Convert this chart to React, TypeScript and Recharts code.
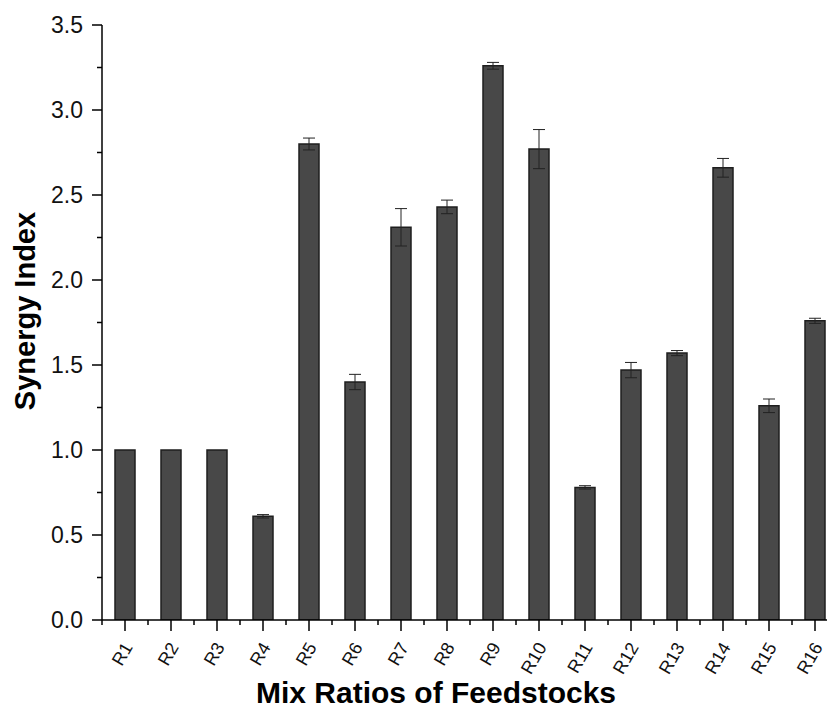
import React from 'react';
import { BarChart, Bar, XAxis, YAxis, ErrorBar, Label } from 'recharts';

const categories = ['R1', 'R2', 'R3', 'R4', 'R5', 'R6', 'R7', 'R8', 'R9', 'R10', 'R11', 'R12', 'R13', 'R14', 'R15', 'R16'];
const synergy = [1.0, 1.0, 1.0, 0.61, 2.8, 1.4, 2.31, 2.43, 3.26, 2.77, 0.78, 1.47, 1.57, 2.66, 1.26, 1.76];
const errors = [null, null, null, 0.01, 0.035, 0.045, 0.11, 0.04, 0.02, 0.115, 0.01, 0.045, 0.015, 0.055, 0.04, 0.015];
// major ticks every 0.5, minor every 0.25
const yTicks = [0, 0.25, 0.5, 0.75, 1, 1.25, 1.5, 1.75, 2, 2.25, 2.5, 2.75, 3, 3.25, 3.5];

const data = categories.map((name, i) => ({ name, value: synergy[i], err: errors[i] ?? undefined }));

const font = 'Arial, "Liberation Sans", sans-serif';

// category tick: major line at centre, minor line at the band edge(s), rotated label
const XTick = (props: any) => {
  const { x, y, payload, index, visibleTicksCount } = props;
  const half = payload.offset || 23;
  const last = index === visibleTicksCount - 1;
  return (
    <g>
      <line x1={x} y1={y} x2={x} y2={y + 11} stroke="#000" strokeWidth={1.5} />
      <line x1={x - half} y1={y} x2={x - half} y2={y + 5} stroke="#000" strokeWidth={1.5} />
      {last && <line x1={x + half} y1={y} x2={x + half} y2={y + 5} stroke="#000" strokeWidth={1.5} />}
      <g transform={`translate(${x + 3},${y + 24})`}>
        <text transform="rotate(-60)" textAnchor="end" dominantBaseline="central" fontSize={18} fontFamily={font} fill="#111">
          {payload.value}
        </text>
      </g>
    </g>
  );
};

const YTick = (props: any) => {
  const { x, y, payload } = props;
  const major = Math.abs(payload.value * 2 - Math.round(payload.value * 2)) < 1e-6;
  return (
    <g>
      <line x1={x - (major ? 10 : 5)} y1={y} x2={x} y2={y} stroke="#000" strokeWidth={1.5} />
      {major && (
        <text x={x - 19} y={y} textAnchor="end" dominantBaseline="central" fontSize={23} fontFamily={font} fill="#111">
          {payload.value.toFixed(1)}
        </text>
      )}
    </g>
  );
};

export default function App() {
  return (
    <div style={{ position: 'absolute', left: 0, top: 0, width: 827, height: 710, overflow: 'hidden', background: '#fff' }}>
      <BarChart width={840} height={710} data={data} margin={{ top: 25, right: 2, bottom: 0, left: 0 }} barSize={20}>
        <XAxis
          dataKey="name"
          height={90}
          interval={0}
          tickSize={0}
          tickMargin={0}
          tickLine={false}
          axisLine={{ stroke: '#000', strokeWidth: 1.5 }}
          tick={<XTick />}
        >
          <Label
            content={() => (
              <text x={436} y={703} textAnchor="middle" fontSize={30} fontWeight="bold" fontFamily={font} fill="#000">
                Mix Ratios of Feedstocks
              </text>
            )}
          />
        </XAxis>
        <YAxis
          domain={[0, 3.5]}
          ticks={yTicks}
          width={102}
          tickSize={0}
          tickMargin={0}
          interval={0}
          tickLine={false}
          tick={<YTick />}
          axisLine={{ stroke: '#000', strokeWidth: 1.5 }}
          allowDataOverflow
        >
          <Label
            content={() => (
              <text
                x={25}
                y={311}
                transform="rotate(-90, 25, 311)"
                textAnchor="middle"
                dominantBaseline="central"
                fontSize={29}
                fontWeight="bold"
                fontFamily={font}
                fill="#000"
              >
                Synergy Index
              </text>
            )}
          />
        </YAxis>
        <Bar dataKey="value" fill="#484848" stroke="#1e1e1e" strokeWidth={1.5} isAnimationActive={false}>
          <ErrorBar dataKey="err" width={6} stroke="#222" strokeWidth={1} />
        </Bar>
      </BarChart>
    </div>
  );
}
